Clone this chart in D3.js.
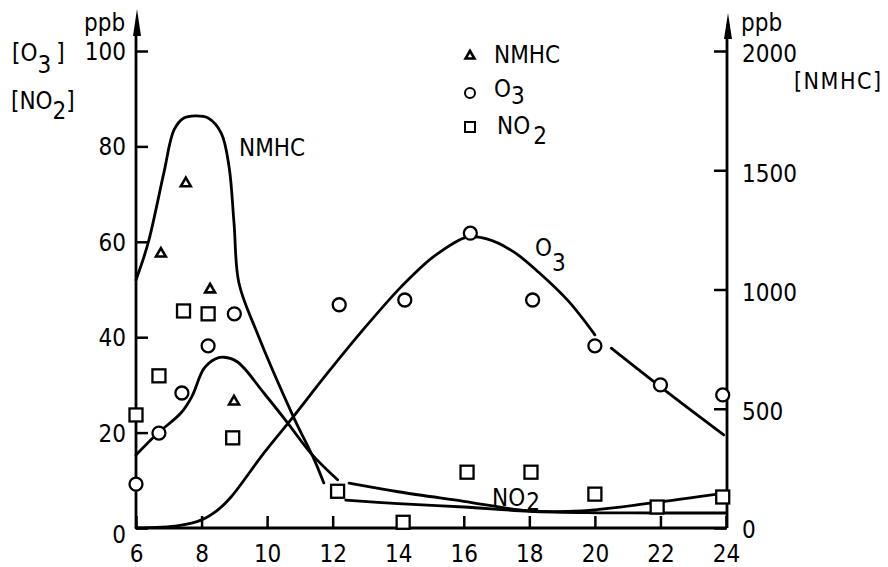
<!DOCTYPE html>
<html>
<head>
<meta charset="utf-8">
<script src="https://cdn.jsdelivr.net/npm/d3@7"></script>
<style>
  body { margin: 0; background: #fff; }
  svg text { font-family: "Liberation Sans Narrow", "DejaVu Sans Condensed", sans-serif; fill: #000; }
  .axis path.domain { display: none; }
  .axis line { stroke: #000; stroke-width: 2.5; }
  .curve { fill: none; stroke: #000; stroke-width: 2.8; stroke-linecap: round; }
</style>
</head>
<body>
<div id="chart"></div>
<script>
// ticks
var hourTicks = [6, 8, 10, 12, 14, 16, 18, 20, 22, 24];
var leftTicks = [0, 20, 40, 60, 80, 100];
var rightTicks = [0, 500, 1000, 1500, 2000];

// measured points: [hour, value]
var nmhcPts = [[6.76, 1150], [7.52, 1445], [8.26, 1000], [8.99, 530]];
var o3Pts = [[6.0, 9.2], [6.7, 19.9], [7.4, 28.3], [8.2, 38.2], [9.0, 44.9], [12.2, 46.8],
             [14.2, 47.8], [16.2, 61.8], [18.1, 47.8], [20.0, 38.2], [22.0, 30.0], [23.9, 27.9]];
var no2Pts = [[6.0, 23.7], [6.7, 31.9], [7.45, 45.5], [8.2, 44.9], [8.95, 18.9], [12.15, 7.7],
              [14.15, 1.2], [16.1, 11.7], [18.05, 11.7], [20.0, 7.1], [21.9, 4.4], [23.9, 6.5]];

// hand drawn curves (broken where a marker sits on them)
var nmhcCurveA = [[6, 1040], [6.37, 1195], [6.85, 1489], [7.16, 1669], [7.45, 1718], [7.8, 1728],
                  [8.2, 1719], [8.6, 1656], [8.84, 1514], [8.99, 1279], [9.14, 1027], [9.66, 830],
                  [10.82, 461], [11.4, 298], [11.73, 189]];
var nmhcCurveB = [[12.4, 117], [14, 102], [16, 88], [18, 70], [20, 64], [22, 63], [24, 63]];
var no2CurveA = [[6, 15.3], [6.67, 19.9], [7.37, 24.1], [7.7, 27.5], [8.07, 33.4], [8.4, 35.4],
                 [8.68, 35.8], [9.1, 34.8], [9.9, 28.3], [10.63, 22], [11.33, 15.7], [12.15, 10.1]];
var no2CurveB = [[12.5, 9.4], [14, 7.6], [16, 5.6], [18, 3.6], [19.6, 3.6], [21.7, 5.2], [23.93, 7.3]];
var o3CurveA = [[6, 0], [7.3, 0.5], [8, 1.7], [8.5, 3.8], [8.9, 6.5], [9.9, 15.7], [10.82, 23.5],
                [11.73, 31.5], [12.86, 41], [14.08, 50.5], [15.1, 57], [16.1, 61], [16.7, 60.6],
                [17.5, 58], [18.3, 53.5], [19.2, 47.5], [20.0, 40.5]];
var o3CurveB = [[20.5, 37.7], [22, 29.6], [23.93, 19.5]];

var width = 888, height = 567;

var svg = d3.select("#chart").append("svg")
    .attr("width", width)
    .attr("height", height);

var x = d3.scaleLinear().domain([6, 24]).range([136, 726]);
var yL = d3.scaleLinear().domain([0, 100]).range([528, 51]);
var yR = d3.scaleLinear().domain([0, 2000]).range([528, 51]);

// axes
svg.append("g")
    .attr("class", "axis")
    .attr("transform", "translate(136,0)")
    .call(d3.axisLeft(yL).tickValues(leftTicks).tickSizeInner(-12).tickSizeOuter(0).tickPadding(10))
    .call(g => g.selectAll("text").style("font-size", "24px").attr("dy", d => d === 0 ? "0.6em" : "0.35em"));

svg.append("g")
    .attr("class", "axis")
    .attr("transform", "translate(726,0)")
    .call(d3.axisRight(yR).tickValues(rightTicks).tickFormat(d3.format("d"))
        .tickSizeInner(-12).tickSizeOuter(0).tickPadding(16))
    .call(g => g.selectAll("text").style("font-size", "24px").attr("dy", d => d === 0 ? "0.4em" : "0.45em"));

svg.append("g")
    .attr("class", "axis")
    .attr("transform", "translate(0,528)")
    .call(d3.axisBottom(x).tickValues(hourTicks).tickSizeInner(-12).tickSizeOuter(0).tickPadding(17))
    .call(g => g.selectAll("text").style("font-size", "24px"));

// axis lines with arrows
svg.append("path")
    .attr("d", "M136,528 L136,30 M727,528 L727,34 M136,528 L727,528")
    .attr("fill", "none")
    .attr("stroke", "#000")
    .attr("stroke-width", 2.8);

svg.append("path").attr("d", "M137,9 L141,36 L133,36 Z").attr("fill", "#000");
svg.append("path").attr("d", "M728,13 L732,39 L724,39 Z").attr("fill", "#000");

// axis titles
svg.append("text").attr("x", 84).attr("y", 31).style("font-size", "24px").text("ppb");
svg.append("text").attr("x", 741).attr("y", 31).style("font-size", "24px").text("ppb");

var t1 = svg.append("text").attr("x", 12).attr("y", 61).style("font-size", "24px");
t1.append("tspan").text("[O");
t1.append("tspan").attr("dy", 12).text("3");
t1.append("tspan").attr("dy", -12).attr("dx", 5).text("]");

var t2 = svg.append("text").attr("x", 11).attr("y", 109).style("font-size", "24px");
t2.append("tspan").text("[NO");
t2.append("tspan").attr("dy", 10).text("2");
t2.append("tspan").attr("dy", -10).text("]");

svg.append("text").attr("x", 794).attr("y", 89).style("font-size", "23px")
    .style("letter-spacing", "1.5px").text("[NMHC]");

// curves
var line = d3.line()
    .x(d => x(d[0]))
    .curve(d3.curveCatmullRom.alpha(0.5));

[nmhcCurveA, nmhcCurveB].forEach(function(c) {
    svg.append("path").attr("class", "curve").attr("d", line.y(d => yR(d[1]))(c));
});
[no2CurveA, no2CurveB, o3CurveA, o3CurveB].forEach(function(c) {
    svg.append("path").attr("class", "curve").attr("d", line.y(d => yL(d[1]))(c));
});

// markers
var tri = d3.symbol().type(d3.symbolTriangle).size(42);

svg.selectAll(".nmhc")
    .data(nmhcPts)
    .enter()
    .append("path")
    .attr("class", "nmhc")
    .attr("d", tri)
    .attr("transform", d => "translate(" + x(d[0]) + "," + yR(d[1]) + ")")
    .attr("fill", "#fff")
    .attr("stroke", "#000")
    .attr("stroke-width", 2.6);

svg.selectAll(".o3")
    .data(o3Pts)
    .enter()
    .append("circle")
    .attr("class", "o3")
    .attr("cx", d => x(d[0]))
    .attr("cy", d => yL(d[1]))
    .attr("r", 6.5)
    .attr("fill", "#fff")
    .attr("stroke", "#000")
    .attr("stroke-width", 2.3);

svg.selectAll(".no2")
    .data(no2Pts)
    .enter()
    .append("rect")
    .attr("class", "no2")
    .attr("x", d => x(d[0]) - 6.5)
    .attr("y", d => yL(d[1]) - 6.5)
    .attr("width", 13)
    .attr("height", 13)
    .attr("fill", "#fff")
    .attr("stroke", "#000")
    .attr("stroke-width", 2.3);

// legend
var lg = svg.append("g");
lg.append("path").attr("d", d3.symbol().type(d3.symbolTriangle).size(34)())
    .attr("transform", "translate(470,56)")
    .attr("fill", "#fff").attr("stroke", "#000").attr("stroke-width", 2.6);
lg.append("circle").attr("cx", 470).attr("cy", 93).attr("r", 5)
    .attr("fill", "#fff").attr("stroke", "#000").attr("stroke-width", 2);
lg.append("rect").attr("x", 465).attr("y", 122).attr("width", 10).attr("height", 10)
    .attr("fill", "#fff").attr("stroke", "#000").attr("stroke-width", 2);

lg.append("text").attr("x", 494).attr("y", 63).style("font-size", "24px").text("NMHC");
var l2 = lg.append("text").attr("x", 494).attr("y", 97).style("font-size", "24px");
l2.append("tspan").text("O");
l2.append("tspan").attr("dy", 7).text("3");
var l3 = lg.append("text").attr("x", 497).attr("y", 134).style("font-size", "24px");
l3.append("tspan").text("NO");
l3.append("tspan").attr("dy", 10).attr("dx", 3).text("2");

// curve labels
svg.append("text").attr("x", 239).attr("y", 156).style("font-size", "24px").text("NMHC");
var c2 = svg.append("text").attr("x", 535).attr("y", 256).style("font-size", "24px");
c2.append("tspan").text("O");
c2.append("tspan").attr("dy", 15).text("3");
var c3 = svg.append("text").attr("x", 492).attr("y", 506).style("font-size", "24px");
c3.append("tspan").text("NO");
c3.append("tspan").attr("dy", 4).attr("dx", 1).text("2");
</script>
</body>
</html>
